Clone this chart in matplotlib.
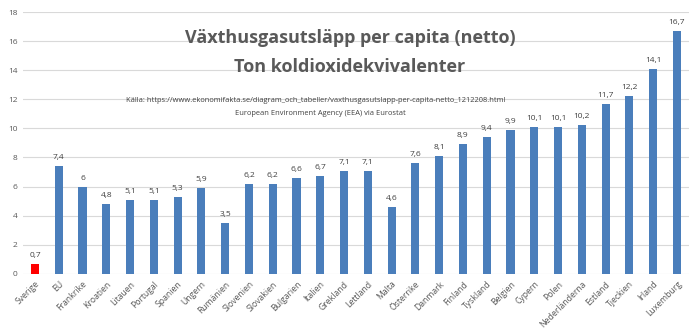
import matplotlib
matplotlib.use("Agg")
import matplotlib.pyplot as plt

countries = ["Sverige", "EU", "Frankrike", "Kroatien", "Litauen", "Portugal", "Spanien",
             "Ungern", "Rumänien", "Slovenien", "Slovakien", "Bulgarien", "Italien",
             "Grekland", "Lettland", "Malta", "Österrike", "Danmark", "Finland", "Tyskland",
             "Belgien", "Cypern", "Polen", "Nederländerna", "Estland", "Tjeckien",
             "Irland", "Luxemburg"]
values = [0.7, 7.4, 6, 4.8, 5.1, 5.1, 5.3, 5.9, 3.5, 6.2, 6.2, 6.6, 6.7, 7.1, 7.1,
          4.6, 7.6, 8.1, 8.9, 9.4, 9.9, 10.1, 10.1, 10.2, 11.7, 12.2, 14.1, 16.7]
yticks = [0, 2, 4, 6, 8, 10, 12, 14, 16, 18]

title1 = "Växthusgasutsläpp per capita (netto)"
title2 = "Ton koldioxidekvivalenter"
src1 = "Källa: https://www.ekonomifakta.se/diagram_och_tabeller/vaxthusgasutslapp-per-capita-netto_1212208.html"
src2 = "European Environment Agency (EEA) via Eurostat"

plt.rcParams['font.family'] = ['Open Sans', 'DejaVu Sans']

fig = plt.figure(figsize=(7.0, 3.34), dpi=100)
ax = fig.add_axes([0.033, 0.180, 0.951, 0.784])

colors = ["#FF0000" if c == "Sverige" else "#4A7EBB" for c in countries]
x = list(range(len(countries)))
bars = ax.bar(x, values, width=0.34, color=colors, zorder=3)

def fmt(v):
    s = ("%g" % v).replace(".", ",")
    return s

for xi, v in zip(x, values):
    ax.text(xi, v + 0.35, fmt(v), ha="center", va="bottom", fontsize=6, color="#404040")

ax.set_xlim(-0.5, len(countries) - 0.5)
ax.set_ylim(0, 18)
ax.set_yticks(yticks)
ax.set_yticklabels([str(t) for t in yticks], fontsize=6, color="#595959")
ax.set_xticks(x)
ax.set_xticklabels(countries, rotation=45, ha="right", rotation_mode="anchor",
                   fontsize=6.2, color="#595959")
ax.tick_params(axis="both", length=0, pad=4)
ax.grid(axis="y", color="#D9D9D9", linewidth=0.8, zorder=0)
for s in ax.spines.values():
    s.set_visible(False)

fig.text(0.5, 0.885, title1, ha="center", va="center", fontsize=13, fontweight="bold", color="#595959")
fig.text(0.5, 0.800, title2, ha="center", va="center", fontsize=13, fontweight="bold", color="#595959")
fig.text(0.451, 0.700, src1, ha="center", va="center", fontsize=5.4, color="#404040")
fig.text(0.457, 0.660, src2, ha="center", va="center", fontsize=5.4, color="#404040")

fig.savefig("out.png", dpi=100)
